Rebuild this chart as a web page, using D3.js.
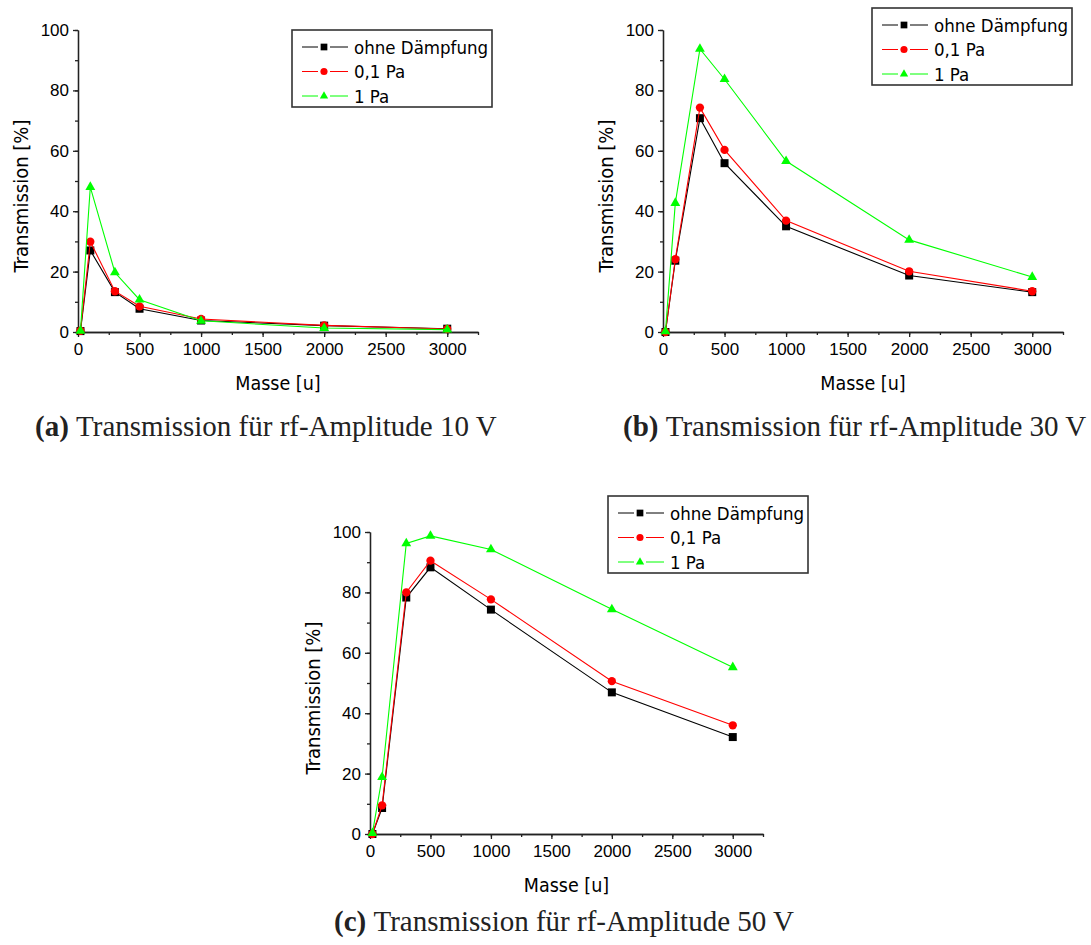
<!DOCTYPE html>
<html>
<head>
<meta charset="utf-8">
<script src="https://cdn.jsdelivr.net/npm/d3@7"></script>
<style>
  body { margin: 0; background: #fff; }
  svg { display: block; }
  .sans { font-family: 'DejaVu Sans Condensed', 'DejaVu Sans', sans-serif; font-stretch: condensed; }
  .axis path, .axis line { stroke: #222; stroke-width: 1.3; }
  .axis text { fill: #000; font-size: 17px; }
  .caption { font-family: 'Liberation Serif', serif; font-size: 29px; fill: #222; }
</style>
</head>
<body>
<div id="container"></div>
<script>
const w = 1091;
const h = 945;

// Data
const masses = [20, 100, 300, 500, 1000, 2000, 3000];
const seriesNames = ['ohne Dämpfung', '0,1 Pa', '1 Pa'];
const seriesColors = ['#000000', '#ff0000', '#00ff00'];
const seriesSymbols = [d3.symbolSquare, d3.symbolCircle, d3.symbolTriangle];

const ohne10V = [0.3, 27.0, 13.2, 7.7, 3.8, 2.1, 1.1];
const pa01_10V = [0.4, 29.9, 13.5, 8.5, 4.3, 2.2, 1.0];
const pa1_10V = [0.4, 48.0, 19.7, 10.7, 3.7, 1.3, 0.8];

const ohne30V = [0, 23.6, 70.8, 55.9, 35.0, 18.7, 13.2];
const pa01_30V = [0, 24.1, 74.3, 60.3, 36.9, 20.1, 13.5];
const pa1_30V = [0.2, 42.7, 93.7, 83.7, 56.6, 30.5, 18.2];

const ohne50V = [0, 8.6, 78.3, 88.3, 74.3, 46.9, 32.1];
const pa01_50V = [0, 9.5, 80.0, 90.5, 77.7, 50.6, 36.0];
const pa1_50V = [0.3, 18.8, 96.2, 98.7, 94.2, 74.4, 55.2];

const xTicks = [0, 500, 1000, 1500, 2000, 2500, 3000];
const yTicks = [0, 20, 40, 60, 80, 100];
const xMax = 3250;

const panels = [
  { left: 78, right: 478, bottom: 332, top: 30, legX: 292, legY: 30,
    capX: 35, capY: 436, tag: '(a)', text: 'Transmission für rf-Amplitude 10 V',
    series: [ohne10V, pa01_10V, pa1_10V] },
  { left: 663, right: 1063, bottom: 332, top: 30, legX: 872, legY: 8,
    capX: 623, capY: 436, tag: '(b)', text: 'Transmission für rf-Amplitude 30 V',
    series: [ohne30V, pa01_30V, pa1_30V] },
  { left: 370, right: 763, bottom: 834, top: 532, legX: 608, legY: 496,
    capX: 334, capY: 931, tag: '(c)', text: 'Transmission für rf-Amplitude 50 V',
    series: [ohne50V, pa01_50V, pa1_50V] }
];

const svg = d3.select('#container')
              .append('svg')
              .attr('width', w)
              .attr('height', h);

svg.append('rect').attr('width', w).attr('height', h).attr('fill', '#fff');

panels.forEach(p => drawPanel(p));

function drawPanel(p) {
  const g = svg.append('g').attr('class', 'sans');

  const xScale = d3.scaleLinear().domain([0, xMax]).range([p.left, p.right]);
  const yScale = d3.scaleLinear().domain([0, 100]).range([p.bottom, p.top]);

  // minor ticks
  g.append('g')
   .attr('class', 'axis')
   .attr('transform', `translate(0, ${p.bottom})`)
   .call(d3.axisBottom(xScale).tickValues(d3.range(0, xMax + 1, 250)).tickSize(3).tickSizeOuter(0).tickFormat(''));
  g.append('g')
   .attr('class', 'axis')
   .attr('transform', `translate(${p.left}, 0)`)
   .call(d3.axisLeft(yScale).tickValues(d3.range(0, 101, 10)).tickSize(3).tickSizeOuter(0).tickFormat(''));

  // major ticks
  g.append('g')
   .attr('class', 'axis')
   .attr('transform', `translate(0, ${p.bottom})`)
   .call(d3.axisBottom(xScale).tickValues(xTicks).tickSize(5).tickSizeOuter(0).tickPadding(6).tickFormat(d3.format('d')));
  g.append('g')
   .attr('class', 'axis')
   .attr('transform', `translate(${p.left}, 0)`)
   .call(d3.axisLeft(yScale).tickValues(yTicks).tickSize(5).tickSizeOuter(0).tickPadding(4).tickFormat(d3.format('d')));

  // axis titles
  g.append('text')
   .attr('x', (p.left + p.right) / 2)
   .attr('y', p.bottom + 58)
   .attr('text-anchor', 'middle')
   .style('font-size', '19.5px')
   .text('Masse [u]');

  g.append('text')
   .attr('transform', `translate(${p.left - 50}, ${(p.top + p.bottom) / 2 + 15}) rotate(-90)`)
   .attr('text-anchor', 'middle')
   .style('font-size', '20px')
   .text('Transmission [%]');

  // series
  const line = d3.line()
                 .x((d, i) => xScale(masses[i]))
                 .y(d => yScale(d));

  p.series.forEach((values, s) => {
    g.append('path')
     .datum(values)
     .attr('fill', 'none')
     .attr('stroke', seriesColors[s])
     .attr('stroke-width', 1.1)
     .attr('d', line);

    g.selectAll(null)
     .data(values)
     .enter()
     .append('path')
     .attr('transform', (d, i) => `translate(${xScale(masses[i])}, ${yScale(d)})`)
     .attr('d', d3.symbol().type(seriesSymbols[s]).size([64, 54, 42][s]))
     .attr('fill', seriesColors[s]);
  });

  createLegend(g, p.legX, p.legY);

  // caption
  const cap = svg.append('text')
                 .attr('class', 'caption')
                 .attr('x', p.capX)
                 .attr('y', p.capY);
  cap.append('tspan').style('font-weight', 'bold').text(p.tag + ' ');
  cap.append('tspan').text(' ' + p.text);
}

function createLegend(g, x, y) {
  const legend = g.append('g').attr('transform', `translate(${x}, ${y})`);

  legend.append('rect')
        .attr('width', 200)
        .attr('height', 77)
        .attr('fill', '#fff')
        .attr('stroke', '#333')
        .attr('stroke-width', 1.6);

  const rows = legend.selectAll('.legend-row')
                     .data(seriesNames)
                     .enter()
                     .append('g')
                     .attr('class', 'legend-row')
                     .attr('transform', (d, i) => `translate(0, ${17 + i * 24.5})`);

  rows.append('line')
      .attr('x1', 10).attr('x2', 26)
      .attr('stroke', (d, i) => seriesColors[i]);
  rows.append('line')
      .attr('x1', 38).attr('x2', 56)
      .attr('stroke', (d, i) => seriesColors[i]);
  rows.append('path')
      .attr('transform', 'translate(32, 0)')
      .attr('d', (d, i) => d3.symbol().type(seriesSymbols[i]).size([45, 40, 30][i])())
      .attr('fill', (d, i) => seriesColors[i]);
  rows.append('text')
      .attr('x', 62)
      .attr('dy', '0.36em')
      .style('font-size', '18.5px')
      .text(d => d);
}
</script>
</body>
</html>
